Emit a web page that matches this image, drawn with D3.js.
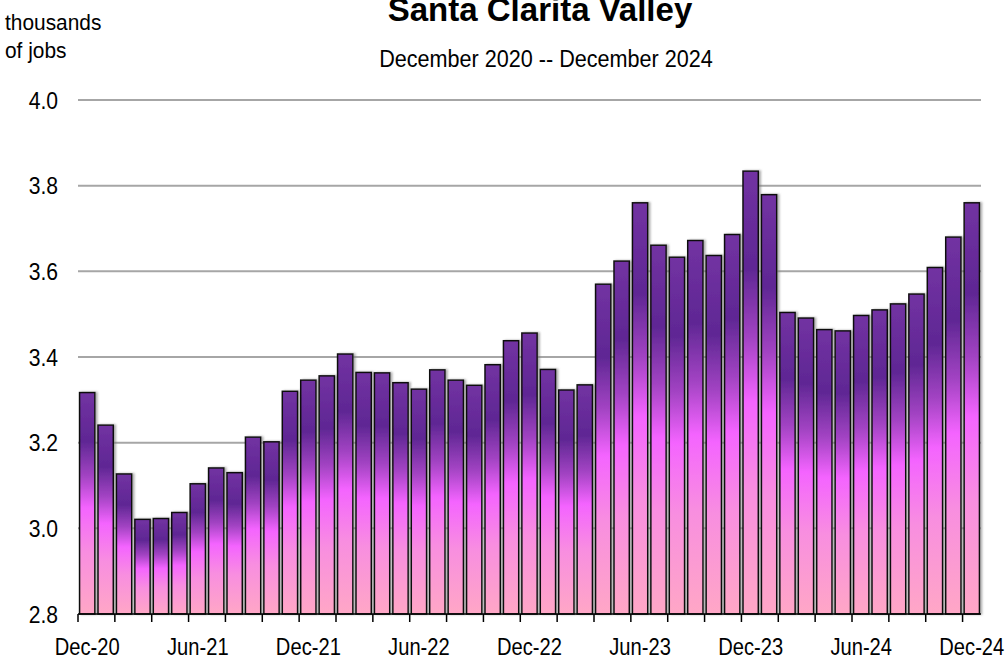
<!DOCTYPE html>
<html>
<head>
<meta charset="utf-8">
<script src="https://cdn.jsdelivr.net/npm/d3@7"></script>
<style>
  body { margin: 0; background: #fff; }
  text { font-family: "Liberation Sans", Arial, sans-serif; fill: #000; }
  .title { font-weight: bold; }
</style>
</head>
<body>
<svg id="chart" width="1005" height="660"></svg>
<script>
// monthly jobs, thousands, Dec 2020 - Dec 2024
var months = ["Dec-20","Jan-21","Feb-21","Mar-21","Apr-21","May-21","Jun-21","Jul-21","Aug-21","Sep-21","Oct-21","Nov-21",
              "Dec-21","Jan-22","Feb-22","Mar-22","Apr-22","May-22","Jun-22","Jul-22","Aug-22","Sep-22","Oct-22","Nov-22",
              "Dec-22","Jan-23","Feb-23","Mar-23","Apr-23","May-23","Jun-23","Jul-23","Aug-23","Sep-23","Oct-23","Nov-23",
              "Dec-23","Jan-24","Feb-24","Mar-24","Apr-24","May-24","Jun-24","Jul-24","Aug-24","Sep-24","Oct-24","Nov-24",
              "Dec-24"];
var jobs = [3.317, 3.241, 3.127, 3.021, 3.023, 3.037, 3.104, 3.141, 3.130, 3.213, 3.202, 3.320,
            3.346, 3.356, 3.407, 3.364, 3.363, 3.340, 3.325, 3.370, 3.346, 3.334, 3.382, 3.438,
            3.456, 3.371, 3.323, 3.335, 3.570, 3.624, 3.760, 3.661, 3.633, 3.672, 3.637, 3.686,
            3.834, 3.779, 3.504, 3.491, 3.464, 3.461, 3.497, 3.510, 3.524, 3.547, 3.609, 3.680,
            3.760];
var yTicks = [2.8, 3.0, 3.2, 3.4, 3.6, 3.8, 4.0];
var xLabels = ["Dec-20","Jun-21","Dec-21","Jun-22","Dec-22","Jun-23","Dec-23","Jun-24","Dec-24"];

var svg = d3.select('#chart');
var plotLeft = 78, plotRight = 981, plotTop = 100, plotBottom = 614;

var x = d3.scaleBand()
    .domain(months)
    .range([plotLeft, plotRight])
    .paddingInner(0.17)
    .paddingOuter(0.085);

var y = d3.scaleLinear()
    .domain([2.8, 4.0])
    .range([plotBottom, plotTop]);

// squeezed text, the chart's font is a narrow one
function narrowText(parent, tx, ty, str, size, sx, anchor) {
    var g = parent.append('g')
        .attr('transform', 'translate(' + tx + ',' + ty + ') scale(' + sx + ',1)');
    g.append('text')
        .attr('text-anchor', anchor || 'start')
        .style('font-size', size + 'px')
        .text(str);
    return g;
}

var defs = svg.append('defs');
var grad = defs.append('linearGradient')
    .attr('id', 'barGrad')
    .attr('x1', 0).attr('y1', 0)
    .attr('x2', 0).attr('y2', 1);
[[0, '#7232a2'], [0.22, '#5f2794'], [0.38, '#a444c4'], [0.52, '#f464ff'],
 [0.72, '#f88ee0'], [1, '#ffa7c6']].forEach(function (s) {
    grad.append('stop').attr('offset', s[0]).attr('stop-color', s[1]);
});

var shadow = defs.append('filter').attr('id', 'shadow')
    .attr('x', '-30%').attr('y', '-5%').attr('width', '160%').attr('height', '110%');
shadow.append('feDropShadow')
    .attr('dx', 2).attr('dy', 0).attr('stdDeviation', 1)
    .attr('flood-color', '#777').attr('flood-opacity', 0.6);

// gridlines
svg.append('g')
    .selectAll('line')
    .data(yTicks.slice(1))
    .enter()
    .append('line')
    .attr('x1', plotLeft)
    .attr('x2', plotRight)
    .attr('y1', function (d) { return y(d); })
    .attr('y2', function (d) { return y(d); })
    .attr('stroke', '#a6a6a6')
    .attr('stroke-width', 2);

// y labels
var yLab = svg.append('g');
yTicks.forEach(function (d) {
    narrowText(yLab, 58, y(d) + 8.5, d.toFixed(1), 24, 0.88, 'end');
});

// bars
svg.append('g')
    .selectAll('rect')
    .data(jobs)
    .enter()
    .append('rect')
    .attr('x', function (d, i) { return x(months[i]); })
    .attr('y', function (d) { return y(d); })
    .attr('width', x.bandwidth())
    .attr('height', function (d) { return plotBottom - y(d); })
    .attr('fill', 'url(#barGrad)')
    .attr('stroke', '#111')
    .attr('stroke-width', 1.5)
    .attr('filter', 'url(#shadow)');

// x axis line + ticks every two bars
svg.append('line')
    .attr('x1', plotLeft).attr('x2', plotRight)
    .attr('y1', plotBottom).attr('y2', plotBottom)
    .attr('stroke', '#000')
    .attr('stroke-width', 1.5);

var step = x.step();
var tickIdx = d3.range(0, months.length, 2);
svg.append('g')
    .selectAll('line')
    .data(tickIdx)
    .enter()
    .append('line')
    .attr('x1', function (i) { return x(months[i]) - step * x.paddingInner() / 2; })
    .attr('x2', function (i) { return x(months[i]) - step * x.paddingInner() / 2; })
    .attr('y1', plotBottom)
    .attr('y2', plotBottom + 8)
    .attr('stroke', '#000')
    .attr('stroke-width', 1.5);

var xLab = svg.append('g');
xLabels.forEach(function (d) {
    narrowText(xLab, x(d) + x.bandwidth() / 2, 655, d, 24, 0.84, 'middle');
});

// titles
svg.append('text')
    .attr('class', 'title')
    .attr('x', 540)
    .attr('y', 21)
    .attr('text-anchor', 'middle')
    .style('font-size', '33px')
    .text('Santa Clarita Valley');

narrowText(svg, 546, 67, 'December 2020 -- December 2024', 24, 0.9, 'middle');
narrowText(svg, 5, 30, 'thousands', 22, 0.95);
narrowText(svg, 5, 58, 'of jobs', 22, 0.95);
</script>
</body>
</html>
